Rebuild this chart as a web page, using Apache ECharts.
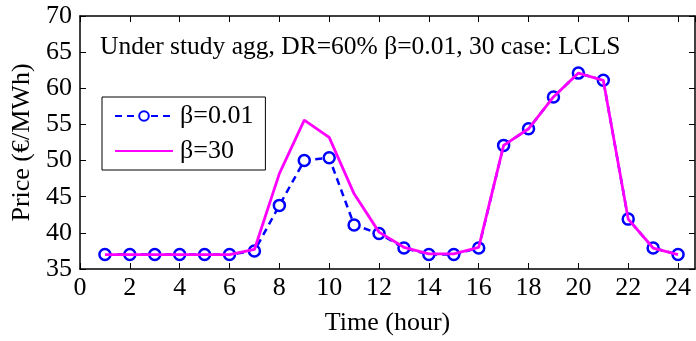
<!DOCTYPE html>
<html>
<head>
<meta charset="utf-8">
<script src="https://cdn.jsdelivr.net/npm/echarts@6/dist/echarts.min.js"></script>
<style>
  html, body { margin: 0; padding: 0; background: #fff; }
  #chart { width: 696px; height: 341px; }
</style>
</head>
<body>
<div id="chart"></div>
<script>
// hours 1..24
const hours = [1, 2, 3, 4, 5, 6, 7, 8, 9, 10, 11, 12, 13, 14, 15, 16, 17, 18, 19, 20, 21, 22, 23, 24];
// price for beta = 0.01 (blue dashed, circles)
const priceBeta001 = [37, 37, 37, 37, 37, 37, 37.5, 43.8, 50.0, 50.4, 41.1, 39.9, 37.9, 37.0, 37.0, 37.9, 52.1, 54.4, 58.8, 62.1, 61.1, 41.9, 37.9, 37.0];
// price for beta = 30 (magenta solid)
const priceBeta30 = [37, 37, 37, 37, 37, 37, 37.7, 48.2, 55.6, 53.2, 45.4, 40.1, 38.0, 37.1, 37.1, 38.0, 52.1, 54.4, 58.8, 62.1, 61.1, 41.9, 37.9, 37.0];

const seriesNames = ['\u03b2=0.01', '\u03b2=30'];
const noteText = 'Under study agg, DR=60% \u03b2=0.01, 30 case: LCLS';

const font = 'Liberation Serif';
const chart = echarts.init(document.getElementById('chart'));

const axisLine = { show: true, onZero: false, lineStyle: { color: '#000', width: 1.5 } };
const tick = { show: true, inside: true, length: 6, lineStyle: { color: '#000', width: 1 } };

const option = {
  animation: false,
  textStyle: { fontFamily: font },
  grid: { left: 80, top: 16, right: 1, bottom: 70 },
  legend: {
    orient: 'vertical',
    left: 102,
    top: 97,
    data: [
      { name: seriesNames[0] },
      { name: seriesNames[1], itemStyle: { opacity: 0 } }
    ],
    itemWidth: 58,
    itemHeight: 12,
    itemGap: 9,
    padding: [6, 12, 6, 12],
    borderColor: '#000',
    borderWidth: 1,
    backgroundColor: '#fff',
    textStyle: { fontFamily: font, fontSize: 26, color: '#000', padding: [0, 0, 0, 2] }
  },
  graphic: [{
    type: 'text',
    left: 100,
    top: 34,
    style: { text: noteText, font: '25.5px "Liberation Serif"', fill: '#000' }
  }],
  xAxis: [{
    type: 'value',
    min: 0, max: 24.68, interval: 2,
    name: 'Time (hour)',
    nameLocation: 'middle',
    nameGap: 41,
    nameTextStyle: { fontFamily: font, fontSize: 26, color: '#000' },
    axisLine: axisLine,
    axisTick: tick,
    splitLine: { show: false },
    axisLabel: { fontFamily: font, fontSize: 26, color: '#000', margin: 6, showMaxLabel: false }
  }, {
    type: 'value', position: 'top',
    min: 0, max: 24.68, interval: 2,
    axisLine: axisLine,
    axisTick: tick,
    splitLine: { show: false },
    axisLabel: { show: false }
  }],
  yAxis: [{
    type: 'value',
    min: 35, max: 70, interval: 5,
    name: 'Price (\u20ac/MWh)',
    nameLocation: 'middle',
    nameGap: 41,
    nameTextStyle: { fontFamily: font, fontSize: 26, color: '#000' },
    axisLine: axisLine,
    axisTick: tick,
    splitLine: { show: false },
    axisLabel: { fontFamily: font, fontSize: 26, color: '#000', margin: 8 }
  }, {
    type: 'value', position: 'right',
    min: 35, max: 70, interval: 5,
    axisLine: axisLine,
    axisTick: tick,
    splitLine: { show: false },
    axisLabel: { show: false }
  }],
  series: [{
    name: seriesNames[0],
    type: 'line',
    data: hours.map((h, i) => [h, priceBeta001[i]]),
    symbol: 'circle',
    symbolSize: 11,
    showAllSymbol: true,
    itemStyle: { color: '#fff', borderColor: '#0000ff', borderWidth: 2.5 },
    lineStyle: { color: '#0000ff', width: 2.5, type: [7, 5] },
    z: 2
  }, {
    name: seriesNames[1],
    type: 'line',
    data: hours.map((h, i) => [h, priceBeta30[i]]),
    symbol: 'none',
    itemStyle: { color: '#ff00ff' },
    lineStyle: { color: '#ff00ff', width: 2.8 },
    z: 3
  }]
};

chart.setOption(option);
</script>
</body>
</html>
